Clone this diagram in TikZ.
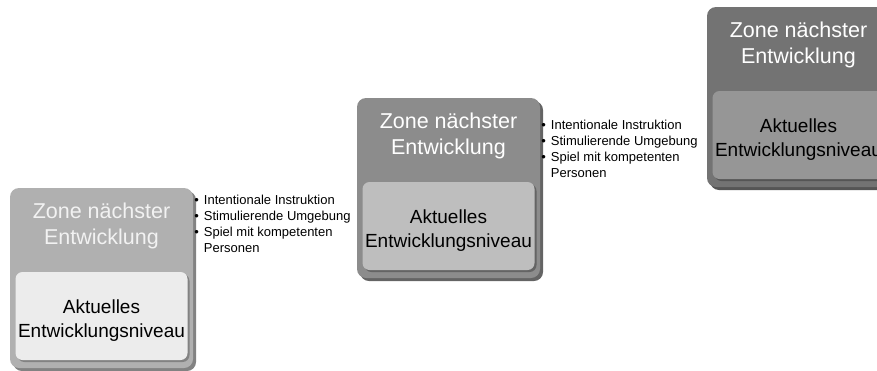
\documentclass[tikz,border=0pt]{standalone}
\usepackage{fontspec}
\setmainfont{Liberation Sans}
\usetikzlibrary{positioning}

\definecolor{zoneA}{RGB}{176,176,176}
\definecolor{zoneB}{RGB}{140,140,140}
\definecolor{zoneC}{RGB}{115,115,115}
\definecolor{levelA}{RGB}{236,236,236}
\definecolor{levelB}{RGB}{190,190,190}
\definecolor{levelC}{RGB}{150,150,150}
\definecolor{shadeA}{RGB}{130,130,130}
\definecolor{shadeB}{RGB}{100,100,100}
\definecolor{shadeC}{RGB}{85,85,85}
\definecolor{titleA}{RGB}{242,242,242}

\begin{document}
\begin{tikzpicture}[x=1pt,y=-1pt,
    zone/.style={rounded corners=9pt,minimum width=183pt,minimum height=180pt,inner sep=0pt},
    level/.style={rounded corners=7pt,minimum width=172pt,minimum height=88pt,inner sep=0pt},
    levtext/.style={align=center,inner sep=0pt,font=\fontsize{19}{24}\selectfont},
    title/.style={align=center,inner sep=0pt,font=\fontsize{21.5}{26}\selectfont},
    bullets/.style={anchor=north west,inner sep=0pt,font=\fontsize{13}{16}\selectfont}]
  \useasboundingbox (0,0) rectangle (877,370);

  % first step
  \node[zone,fill=shadeA] (shadow1) at (104.5,281) {};
  \node[zone,fill=zoneA] (zone1) at (101.5,278) {};
  \node[title,text=titleA,below=15pt of zone1.north] (title1) {Zone nächster\\Entwicklung};
  \node[level,fill=shadeA,below=86pt of zone1.north,xshift=2pt] (lshadow1) {};
  \node[level,fill=levelA,below=84pt of zone1.north] (level1) {};
  \node[levtext] (text1) at ([yshift=-5pt]level1.center) {Aktuelles\\Entwicklungsniveau};
  \node[bullets] (list1) at ([xshift=1pt,yshift=-5pt]zone1.north east) {%
    \begin{tabular}{@{}l@{\hspace{5pt}}l@{}}
      \textbullet & Intentionale Instruktion\\
      \textbullet & Stimulierende Umgebung\\
      \textbullet & Spiel mit kompetenten\\
                  & Personen
    \end{tabular}};

  % second step
  \node[zone,fill=shadeB] (shadow2) at (451.5,191) {};
  \node[zone,fill=zoneB] (zone2) at (448.5,188) {};
  \node[title,text=white,below=15pt of zone2.north] (title2) {Zone nächster\\Entwicklung};
  \node[level,fill=shadeB,below=86pt of zone2.north,xshift=2pt] (lshadow2) {};
  \node[level,fill=levelB,below=84pt of zone2.north] (level2) {};
  \node[levtext] (text2) at ([yshift=-5pt]level2.center) {Aktuelles\\Entwicklungsniveau};
  \node[bullets] (list2) at ([xshift=1pt,yshift=-20pt]zone2.north east) {%
    \begin{tabular}{@{}l@{\hspace{5pt}}l@{}}
      \textbullet & Intentionale Instruktion\\
      \textbullet & Stimulierende Umgebung\\
      \textbullet & Spiel mit kompetenten\\
                  & Personen
    \end{tabular}};

  % third step
  \node[zone,fill=shadeC] (shadow3) at (801.5,100) {};
  \node[zone,fill=zoneC] (zone3) at (798.5,97) {};
  \node[title,text=white,below=15pt of zone3.north] (title3) {Zone nächster\\Entwicklung};
  \node[level,fill=shadeC,below=86pt of zone3.north,xshift=2pt] (lshadow3) {};
  \node[level,fill=levelC,below=84pt of zone3.north] (level3) {};
  \node[levtext] (text3) at ([yshift=-5pt]level3.center) {Aktuelles\\Entwicklungsniveau};
\end{tikzpicture}
\end{document}
